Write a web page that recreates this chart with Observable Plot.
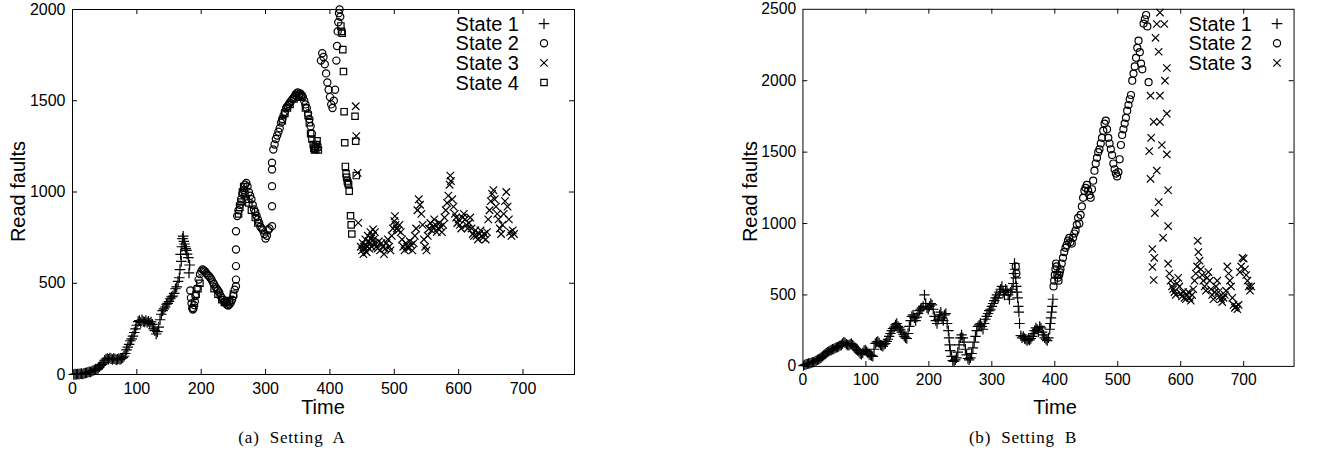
<!DOCTYPE html>
<html><head><meta charset="utf-8">
<script src="https://cdn.jsdelivr.net/npm/d3@7"></script>
<script src="https://cdn.jsdelivr.net/npm/@observablehq/plot@0.6"></script>
<style>
body{margin:0;background:#fff;}
#wrap{position:relative;width:1319px;height:452px;overflow:hidden;background:#fff;}
.panel{position:absolute;top:0;}
#overlay{position:absolute;left:0;top:0;pointer-events:none;}
</style></head><body>
<div id="wrap"><div id="pa" class="panel" style="left:0px"></div><div id="pb" class="panel" style="left:732px"></div><svg id="overlay" width="1319" height="452"></svg></div>
<script>
// ---- tick labels ----
const xTicks = [0, 100, 200, 300, 400, 500, 600, 700];
const yTicksA = [0, 500, 1000, 1500, 2000];
const yTicksB = [0, 500, 1000, 1500, 2000, 2500];
const legendA = ["State 1", "State 2", "State 3", "State 4"];
const legendB = ["State 1", "State 2", "State 3"];

// ---- Setting A: [time, read faults] ----
const A_state1 = [[2,0],[4,2],[6,1],[8,3],[10,2],[12,4],[14,5],[16,3],[18,6],[20,8],[22,10],[24,12],[26,15],[28,14],[30,18],[32,22],[34,25],[36,30],[38,28],[40,35],[42,42],[44,50],[46,55],[48,65],[50,78],[52,85],[54,88],[56,84],[58,90],[60,86],[62,82],[64,88],[66,85],[68,80],[70,84],[72,87],[74,83],[76,88],[78,92],[80,100],[82,115],[84,135],[86,150],[88,165],[90,185],[92,195],[94,210],[96,230],[98,250],[100,270],[102,290],[104,295],[106,285],[108,300],[110,290],[112,288],[114,295],[116,285],[118,292],[120,280],[122,288],[124,275],[126,250],[128,240],[130,222],[132,235],[134,260],[136,300],[138,330],[140,350],[142,360],[144,370],[146,385],[148,390],[150,400],[152,415],[154,425],[156,430],[158,445],[160,470],[162,480],[164,510],[166,530],[167,575],[168,658],[169,620],[170,700],[171,745],[172,758],[173,730],[174,715],[175,700],[176,690],[177,680],[178,660],[180,640],[181,557],[182,600]];
const A_state2 = [[183,460],[184,420],[185,390],[186,365],[187,356],[188,362],[189,380],[190,400],[191,430],[193,470],[196,520],[198,550],[200,565],[202,575],[204,570],[206,565],[208,555],[210,545],[212,540],[214,530],[216,520],[218,505],[220,495],[222,480],[224,470],[226,460],[228,450],[230,430],[232,420],[234,410],[236,400],[238,390],[240,382],[242,378],[244,385],[246,395],[248,410],[250,430],[252,465],[254,484],[254,520],[254,594],[254,685],[254,785],[256,868],[258,900],[260,930],[262,960],[264,990],[266,1010],[268,1040],[270,1050],[272,1030],[274,1000],[276,980],[278,960],[280,930],[282,905],[284,890],[286,870],[288,850],[290,830],[292,810],[294,800],[296,790],[298,770],[300,745],[302,760],[304,790],[306,800],[310,813],[310,922],[310,1032],[310,1123],[310,1160],[312,1233],[314,1260],[316,1290],[318,1310],[320,1330],[322,1350],[324,1380],[326,1400],[328,1420],[330,1440],[332,1460],[334,1470],[336,1480],[338,1490],[340,1500],[342,1510],[344,1520],[346,1530],[348,1540],[350,1545],[352,1535],[354,1540],[356,1530],[358,1520],[360,1500],[362,1480],[364,1460],[366,1430],[368,1400],[370,1360],[372,1320],[386,1720],[388,1760],[390,1740],[392,1700],[394,1650],[396,1600],[398,1560],[400,1520],[402,1480],[404,1460],[406,1500],[408,1560],[410,1720],[411,1800],[412,1880],[413,1930],[414,1980],[415,2000],[416,1960]];
const A_state3 = [[440,1470],[441,1306],[443,1105],[444,831],[448,700],[450,680],[451,720],[452,660],[453,700],[454,690],[455,740],[456,710],[457,670],[458,700],[459,760],[460,730],[461,690],[462,720],[463,780],[464,745],[465,700],[466,760],[467,795],[468,740],[469,720],[470,780],[472,700],[474,690],[476,730],[478,680],[480,720],[482,700],[484,660],[486,690],[488,720],[490,740],[492,700],[494,680],[496,760],[498,800],[500,840],[501,868],[502,820],[504,800],[506,790],[508,820],[510,780],[512,740],[514,700],[516,680],[518,720],[520,700],[522,690],[524,730],[526,710],[528,680],[530,720],[532,760],[534,800],[536,900],[538,960],[540,930],[542,880],[544,820],[546,740],[548,700],[550,680],[552,760],[554,800],[556,830],[558,790],[560,810],[562,850],[564,820],[566,780],[568,800],[570,830],[572,810],[574,780],[576,820],[578,860],[580,900],[582,940],[584,980],[586,1040],[587,1090],[588,1060],[590,960],[592,920],[594,880],[596,860],[598,830],[600,850],[602,820],[604,800],[606,860],[608,880],[610,850],[612,820],[614,800],[616,830],[618,860],[620,800],[622,770],[624,760],[626,790],[628,760],[630,740],[632,770],[634,790],[636,760],[638,750],[640,770],[642,740],[644,780],[646,850],[648,900],[650,950],[652,990],[654,1010],[656,960],[658,920],[660,880],[662,850],[664,800],[666,770],[668,820],[670,880],[672,950],[674,1000],[676,920],[678,850],[680,780],[682,760],[684,790],[686,770]];
const A_state4 = [[192,440],[195,470],[198,500],[220,470],[226,440],[232,410],[236,395],[240,400],[244,405],[250,440],[258,880],[260,915],[262,945],[264,1000],[266,1030],[268,985],[270,960],[274,940],[278,900],[284,860],[288,830],[326,1390],[330,1430],[334,1460],[338,1480],[344,1510],[348,1530],[352,1520],[356,1525],[362,1460],[366,1420],[368,1380],[370,1320],[372,1290],[374,1260],[375,1240],[376,1230],[377,1250],[378,1235],[379,1260],[380,1280],[381,1245],[382,1230],[417,1910],[418,1880],[419,1870],[420,1780],[421,1660],[422,1440],[423,1270],[424,1140],[425,1100],[426,1080],[427,1060],[428,1050],[429,1040],[430,1005],[432,870],[433,820],[434,770],[439,1415],[440,1278],[441,1090]];

// ---- Setting B: [time, read faults] ----
const B_state1 = [[1,5],[3,10],[5,15],[7,18],[9,20],[11,22],[13,25],[15,28],[17,30],[19,35],[21,40],[23,45],[25,50],[27,55],[29,62],[31,70],[33,78],[35,85],[37,92],[39,100],[41,105],[43,110],[45,115],[47,120],[49,122],[51,128],[53,132],[55,135],[57,140],[59,145],[61,150],[63,160],[65,170],[67,165],[69,155],[71,150],[73,148],[75,155],[77,160],[79,150],[81,140],[83,130],[85,120],[87,110],[89,100],[91,90],[93,85],[95,95],[97,110],[99,115],[101,105],[103,95],[105,85],[107,80],[109,75],[111,70],[113,120],[115,160],[117,170],[119,175],[121,165],[123,150],[125,145],[127,140],[129,155],[131,160],[133,175],[135,190],[137,210],[139,230],[141,250],[143,265],[145,275],[147,290],[149,300],[151,280],[153,270],[155,255],[157,240],[159,225],[161,210],[163,200],[165,195],[167,230],[169,280],[171,320],[173,350],[175,360],[177,340],[179,320],[181,345],[183,370],[185,390],[187,400],[189,410],[191,420],[193,500],[195,440],[197,410],[199,400],[201,420],[203,440],[205,430],[207,400],[209,350],[211,320],[213,300],[215,330],[217,360],[219,380],[221,340],[223,320],[225,360],[227,370],[229,300],[231,250],[232,200],[233,150],[234,110],[236,70],[238,40],[240,35],[242,45],[244,60],[246,100],[248,150],[250,200],[252,220],[254,200],[256,170],[258,120],[260,80],[262,55],[264,45],[266,60],[268,90],[270,130],[272,170],[274,210],[276,250],[278,280],[280,290],[282,300],[284,280],[286,260],[288,300],[290,330],[292,350],[294,370],[296,390],[298,400],[300,420],[302,440],[304,460],[306,480],[308,500],[310,480],[312,520],[314,540],[316,560],[318,520],[320,500],[322,540],[324,530],[326,500],[328,470],[330,520],[332,540],[334,580],[335,650],[336,720],[337,680],[338,620],[339,560],[340,520],[341,480],[342,420],[343,380],[344,300],[346,215],[348,200],[350,210],[352,195],[354,190],[356,180],[358,190],[360,185],[362,195],[364,210],[366,230],[368,250],[370,270],[372,260],[374,240],[376,280],[378,270],[380,240],[382,220],[384,200],[386,190],[388,180],[390,200],[392,260],[393,300],[394,340],[395,380],[396,420],[397,470]];
const B_state2 = [[338,700],[339,650],[398,560],[399,600],[400,640],[401,680],[402,720],[403,700],[404,640],[405,620],[406,600],[407,640],[408,660],[409,680],[411,720],[413,760],[415,800],[417,830],[419,850],[421,880],[423,900],[425,870],[427,860],[429,900],[431,930],[433,950],[435,990],[437,1040],[439,1000],[441,1060],[443,1120],[445,1180],[447,1230],[449,1250],[451,1270],[453,1230],[455,1200],[457,1180],[459,1240],[461,1300],[463,1370],[465,1420],[467,1460],[469,1500],[471,1520],[473,1560],[475,1600],[477,1650],[479,1700],[481,1720],[483,1660],[485,1600],[487,1560],[489,1520],[491,1480],[493,1420],[495,1380],[497,1350],[499,1330],[501,1360],[503,1450],[505,1550],[507,1620],[509,1660],[511,1700],[513,1740],[515,1790],[517,1830],[519,1870],[521,1900],[523,2000],[525,2050],[527,2100],[529,2160],[531,2230],[533,2280],[535,2200],[537,2120],[539,2080],[541,2400],[543,2430],[545,2460],[547,2380],[549,1990]];
const B_state3 = [[567,2477],[562,2397],[574,2397],[560,2300],[565,2203],[578,2089],[575,2000],[552,1895],[567,1895],[578,1769],[557,1712],[567,1712],[553,1600],[570,1550],[550,1507],[578,1484],[562,1370],[552,1313],[580,1233],[565,1150],[559,1073],[580,982],[572,900],[555,822],[558,760],[580,719],[555,696],[557,605],[582,650],[584,600],[586,560],[588,540],[590,520],[592,500],[594,580],[596,620],[598,560],[600,510],[602,490],[604,520],[606,480],[608,470],[610,500],[612,520],[614,480],[616,460],[618,500],[620,540],[622,600],[624,650],[626,700],[627,879],[628,800],[630,740],[632,680],[634,640],[636,600],[638,560],[640,530],[642,620],[644,660],[646,600],[648,540],[650,500],[652,470],[654,520],[656,560],[658,600],[660,520],[662,490],[664,470],[666,450],[668,480],[670,500],[672,530],[674,700],[676,650],[678,600],[680,560],[682,480],[684,430],[686,410],[688,420],[690,400],[692,430],[694,660],[696,700],[698,760],[700,755],[702,680],[704,640],[706,600],[708,560],[710,530],[712,560]];

const FONT = '"Liberation Sans", Arial, Helvetica, sans-serif';
const SYM = {plus: 3.5, circle: 3.6, times: 3.5, square: 3.6};

function panel(series, yMax, yTicks) {
  const W = 600, H = 420, mL = 72, mR = 26, mT = 9, mB = H - 374;
  const pw = W - mL - mR, ph = H - mT - mB;
  return Plot.plot({
    width: W, height: H,
    marginLeft: mL, marginRight: mR, marginTop: mT, marginBottom: mB,
    style: {fontFamily: FONT, fontSize: "16px", color: "black", background: "white", overflow: "visible"},
    x: {domain: [0, 780], ticks: xTicks, tickSize: 0, tickPadding: 8, tickFormat: d => String(d), label: null},
    y: {domain: [0, yMax], ticks: yTicks, tickSize: 0, tickPadding: 7, tickFormat: d => String(d), label: null},
    marks: [
      Plot.tickX(xTicks.slice(1), {x: d => d, insetTop: ph - 5, stroke: "black"}),
      Plot.tickX(xTicks.slice(1), {x: d => d, insetBottom: ph - 5, stroke: "black"}),
      Plot.tickY(yTicks.slice(1, -1), {y: d => d, insetRight: pw - 5, stroke: "black"}),
      Plot.tickY(yTicks.slice(1, -1), {y: d => d, insetLeft: pw - 5, stroke: "black"}),
      ...series.map(s => Plot.dot(s.data, {x: d => d[0], y: d => d[1], symbol: s.symbol, r: SYM[s.symbol], stroke: "black", fill: "none", strokeWidth: 1.2})),
      Plot.frame({stroke: "black", strokeWidth: 1})
    ]
  });
}

document.getElementById("pa").appendChild(panel([
  {data: A_state1, symbol: "plus"},
  {data: A_state2, symbol: "circle"},
  {data: A_state3, symbol: "times"},
  {data: A_state4, symbol: "square"}
], 2000, yTicksA));
document.getElementById("pb").appendChild(panel([
  {data: B_state1, symbol: "plus"},
  {data: B_state2, symbol: "circle"},
  {data: B_state3, symbol: "times"}
], 2500, yTicksB));

// ---- overlay: axis titles, legends, captions ----
const ov = d3.select("#overlay");
const symType = {plus: d3.symbolPlus, circle: d3.symbolCircle, times: d3.symbolTimes, square: d3.symbolSquare};
function titles(x0, captionX, caption) {
  ov.append("text").attr("transform", `translate(${x0 + 25},191.5) rotate(-90)`)
    .attr("text-anchor", "middle").attr("font-family", FONT).attr("font-size", 20).text("Read faults");
  ov.append("text").attr("x", x0 + 323).attr("y", 414).attr("text-anchor", "middle")
    .attr("font-family", FONT).attr("font-size", 20).text("Time");
  ov.append("text").attr("x", captionX).attr("y", 443).attr("text-anchor", "middle")
    .attr("font-family", '"Liberation Serif", "Times New Roman", serif').attr("font-size", 17)
    .attr("letter-spacing", 0.8).attr("word-spacing", 5).text(caption);
}
function legend(labels, symbols, textRight, symX) {
  labels.forEach((lab, i) => {
    const base = 30.7 + i * 19.6;
    ov.append("text").attr("x", textRight).attr("y", base).attr("text-anchor", "end")
      .attr("font-family", FONT).attr("font-size", 20).text(lab);
    const r = SYM[symbols[i]];
    ov.append("path").attr("transform", `translate(${symX},${base - 7})`)
      .attr("d", d3.symbol(symType[symbols[i]], Math.PI * r * r)())
      .attr("fill", "none").attr("stroke", "black").attr("stroke-width", 1.2);
  });
}
titles(0, 292, "(a) Setting A");
titles(732, 1023, "(b) Setting B");
legend(legendA, ["plus", "circle", "times", "square"], 519, 544);
legend(legendB, ["plus", "circle", "times"], 1252, 1277);
</script>
</body></html>
